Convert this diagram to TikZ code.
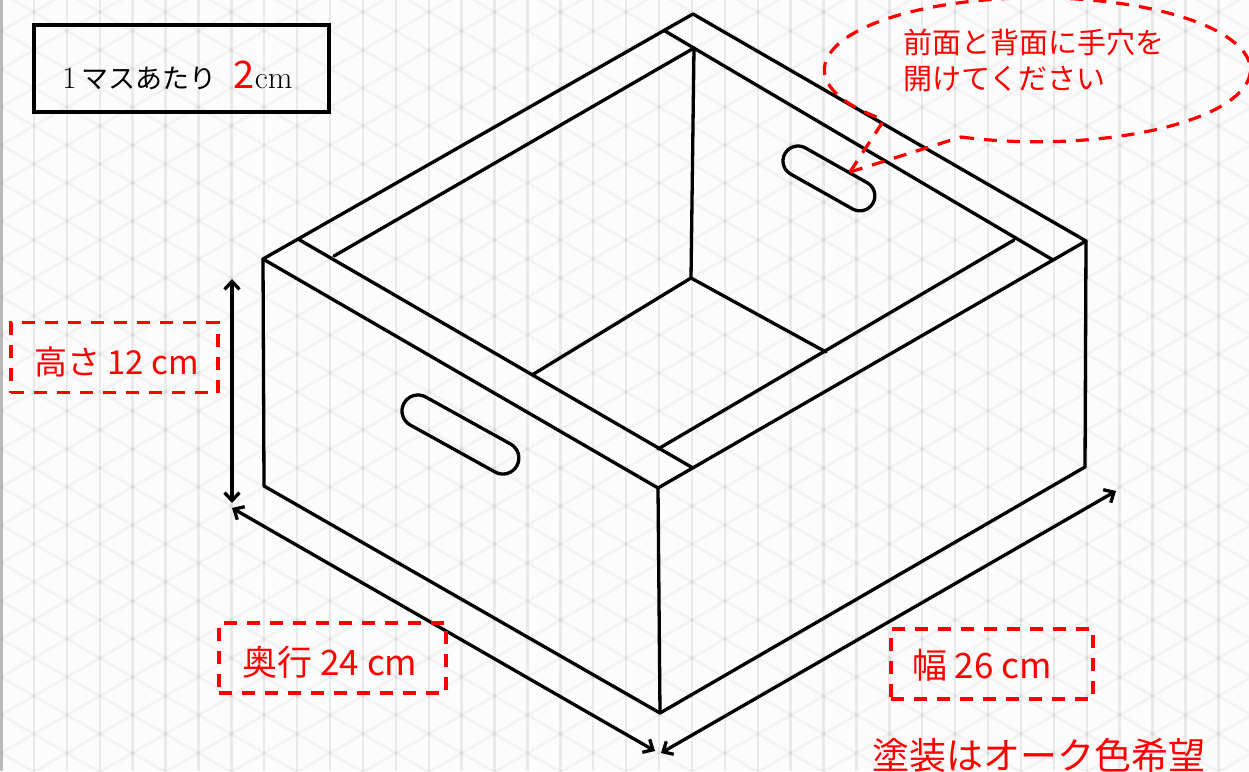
\documentclass[tikz,border=0pt]{standalone}
\usepackage{fontspec}
\newfontfamily\jp{Noto Sans CJK JP}
\usetikzlibrary{arrows.meta}
\definecolor{redink}{RGB}{255,0,0}
\tikzset{
  x=1pt,y=1pt,
  gridv/.style={line width=2.4pt,black,opacity=.07},
  gridd/.style={line width=3pt,black,opacity=.035},
  edge/.style={line width=3.3pt,black,line cap=round,line join=round},
  dim/.style={line width=3.3pt,black,{Straight Barb[length=8pt,width=15pt,line width=3.3pt]}-{Straight Barb[length=8pt,width=15pt,line width=3.3pt]}},
  reddash/.style={draw=redink,line width=3.2pt,dash pattern=on 13pt off 10pt},
  redbox/.style={reddash,inner sep=0pt,text=redink},
  redtext/.style={text=redink,inner sep=0pt,font=\jp\fontsize{29}{36}\selectfont},
  infobox/.style={draw=black,line width=3.4pt,inner sep=0pt,minimum width=295pt,minimum height=87pt}
}
\begin{document}
\begin{tikzpicture}
\useasboundingbox (0,0) rectangle (1249,-771);
\clip (0,0) rectangle (1249,-771);
\fill[white!99!black] (0,0) rectangle (1249,-771);
\fill[black!27] (0,0) rectangle (2.5,-771);
% isometric grid
\foreach \k in {1,...,37} \draw[gridv] ({1+32.9*\k},0) -- ({1+32.9*\k},-771);
\foreach \m in {-19,...,21} \draw[gridd] (1,{7-38*\m}) -- (1249,{7-38*\m-720.6});
\foreach \m in {0,...,40} \draw[gridd] (1,{7-38*\m}) -- (1249,{7-38*\m+720.6});
% corners
\coordinate (apex) at (693,-14);
\coordinate (rimT) at (665,-31);
\coordinate (inT) at (694,-48);
\coordinate (R) at (1086,-241);
\coordinate (rimR) at (1053,-260);
\coordinate (inR) at (1014,-240);
\coordinate (F) at (658,-488);
\coordinate (rimF) at (693,-468);
\coordinate (inF) at (658,-449);
\coordinate (L) at (263,-259);
\coordinate (rimL) at (298,-239);
\coordinate (inL) at (334,-256);
\coordinate (floor) at (691,-278);
\coordinate (floorL) at (532,-375);
\coordinate (floorR) at (826,-352);
\coordinate (botL) at (264,-486);
\coordinate (botF) at (660,-713);
\coordinate (botR) at (1085,-467);
% box
\draw[edge] (L) -- (apex) -- (R) -- (F) -- cycle;
\draw[edge] (rimT) -- (rimR);
\draw[edge] (rimL) -- (rimF);
\draw[edge] (inL) -- (inT) -- (floor);
\draw[edge] (inR) -- (inF);
\draw[edge] (floorL) -- (floor) -- (floorR);
\draw[edge] (L) -- (botL) -- (botF) -- (botR) -- (R);
\draw[edge] (F) -- (botF);
% hand holes
\draw[edge,shift={(418,-411)},rotate=-29] (0,16) -- (97,16) arc[start angle=90,end angle=-90,radius=16pt] -- (0,-16) arc[start angle=270,end angle=90,radius=16pt] -- cycle;
\draw[edge,shift={(798,-161)},rotate=-29.4] (0,15) -- (71,15) arc[start angle=90,end angle=-90,radius=15pt] -- (0,-15) arc[start angle=270,end angle=90,radius=15pt] -- cycle;
% dimension arrows
\coordinate (hA) at (232,-279);
\coordinate (hB) at (232,-503);
\coordinate (dA) at (232,-508);
\coordinate (dB) at (655,-751);
\coordinate (wA) at (661,-753);
\coordinate (wB) at (1116,-491);
\draw[dim] (hA) -- (hB);
\draw[dim] (dA) -- (dB);
\draw[dim] (wA) -- (wB);
% callout
\coordinate (tip) at (850,-172);
\coordinate (tailA) at (884,-120);
\coordinate (tailB) at (961,-137);
\draw[reddash] (tailB) arc[start angle=249,end angle=584,x radius=213pt,y radius=72pt];
\draw[reddash] (tip) -- (tailA);
\draw[reddash] (tip) -- (tailB);
\node[redtext,anchor=west,align=left] (note) at (903,-60) {前面と背面に手穴を\\開けてください};
% labels
\node[infobox] (unit) at (181.5,-68.5) {\raisebox{-19.5pt}[0pt][0pt]{\fontsize{31}{32}\selectfont 1\,\jp\fontsize{27}{32}\selectfont マスあたり\hspace{17pt}\textcolor{redink}{\fontsize{38}{38}\selectfont 2}\rmfamily\fontsize{32}{32}\selectfont cm}\kern8pt};
\node[redbox,minimum width=207pt,minimum height=70pt,font=\jp\fontsize{33}{36}\selectfont] (height) at (114.5,-357.5) {\kern4pt\raisebox{-17pt}[0pt][0pt]{高さ 12 cm}};
\node[redbox,minimum width=227pt,minimum height=70pt,font=\jp\fontsize{35}{38}\selectfont] (depth) at (332.5,-658) {\raisebox{-17pt}[0pt][0pt]{奥行 24 cm}\kern5pt};
\node[redbox,minimum width=202pt,minimum height=70pt,font=\jp\fontsize{35}{38}\selectfont] (width) at (992,-664) {\raisebox{-14.5pt}[0pt][0pt]{幅 26 cm}\kern20pt};
\node[redtext,font=\jp\fontsize{37}{40}\selectfont] (paint) at (1039,-755) {塗装はオーク色希望};
\end{tikzpicture}
\end{document}
